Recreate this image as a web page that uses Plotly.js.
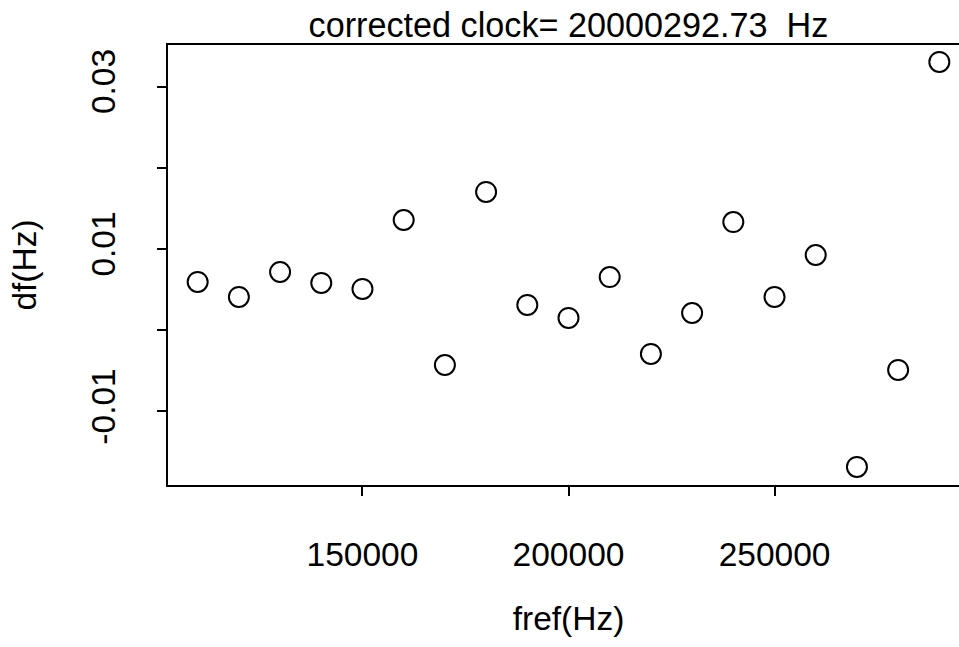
<!DOCTYPE html>
<html>
<head>
<meta charset="utf-8">
<script src="https://cdn.plot.ly/plotly-3.0.1.min.js"></script>
<style>
html, body { margin: 0; padding: 0; overflow: hidden; background: #fff; }
#chart { width: 1000px; height: 647px; }
</style>
</head>
<body>
<div id="chart"></div>
<script>
var fref = [110000, 120000, 130000, 140000, 150000, 160000, 170000, 180000, 190000, 200000,
            210000, 220000, 230000, 240000, 250000, 260000, 270000, 280000, 290000];
var df = [0.00594, 0.00410, 0.00717, 0.00582, 0.00508, 0.01357, -0.00428, 0.01702, 0.00311, 0.00151,
          0.00655, -0.00292, 0.00212, 0.01332, 0.00410, 0.00926, -0.01683, -0.00489, 0.03302];
var titleText = "corrected clock= 20000292.73  Hz";
var xTickVals = [150000, 200000, 250000];
var xTickText = ["150000", "200000", "250000"];
var yTickVals = [-0.01, 0, 0.01, 0.02, 0.03];
var yTickText = ["-0.01", "", "0.01", "", "0.03"];

var FONT = "Liberation Sans, Arial, Helvetica, sans-serif";
var FS = 33.5;
var TFS = 34.2;

var trace = {
  x: fref, y: df, type: "scatter", mode: "markers",
  marker: { symbol: "circle-open", size: 20, color: "#000", line: { width: 2, color: "#000" } },
  hoverinfo: "none"
};

var layout = {
  width: 1000, height: 647,
  paper_bgcolor: "#fff", plot_bgcolor: "#fff",
  margin: { l: 168, r: 31, t: 45, b: 162, pad: 0 },
  font: { family: FONT, size: FS, color: "#000" },
  showlegend: false,
  title: { text: titleText, font: { family: FONT, size: TFS, color: "#000" },
           x: 0.5, xref: "paper", xanchor: "center", y: 1 - 25 / 647, yref: "container", yanchor: "middle" },
  xaxis: {
    range: [102800, 297200], showgrid: false, zeroline: false,
    showline: true, linewidth: 2, linecolor: "#000", mirror: true,
    ticks: "outside", ticklen: 9, tickwidth: 2, tickcolor: "#000",
    tickvals: xTickVals, ticktext: xTickText, ticklabelstandoff: 30,
    tickfont: { family: FONT, size: FS, color: "#000" },
    title: { text: "fref(Hz)", font: { family: FONT, size: FS, color: "#000" }, standoff: 34 },
    automargin: false
  },
  yaxis: {
    range: [-0.01905, 0.03511], showgrid: false, zeroline: false,
    showline: true, linewidth: 2, linecolor: "#000", mirror: true,
    ticks: "outside", ticklen: 9, tickwidth: 2, tickcolor: "#000",
    tickvals: yTickVals, ticktext: yTickText, tickangle: -90, ticklabelstandoff: 29,
    tickfont: { family: FONT, size: FS, color: "#000" },
    title: { text: "df(Hz)", font: { family: FONT, size: FS, color: "#000" }, standoff: 38 },
    automargin: false
  }
};

Plotly.newPlot("chart", [trace], layout, { staticPlot: true, displayModeBar: false });
</script>
</body>
</html>
